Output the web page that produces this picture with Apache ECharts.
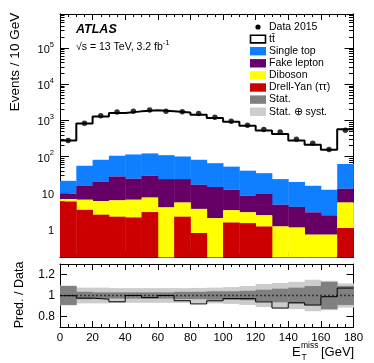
<!DOCTYPE html>
<html>
<head>
<meta charset="utf-8">
<script src="https://cdn.jsdelivr.net/npm/echarts@6/dist/echarts.min.js"></script>
<style>
  html, body { margin: 0; padding: 0; background: #fff; }
  #chart { width: 374px; height: 363px; }
</style>
</head>
<body>
<div id="chart"></div>
<script>
// bins of E_T^miss, 10 GeV wide
const binLow = [0, 10, 20, 30, 40, 50, 60, 70, 80, 90, 100, 110, 120, 130, 140, 150, 160, 170]
const binWidth = 10

// predicted events per bin
const drellYan = [5.8, 3.4, 2.5, 2.2, 2.1, 2.95, 0, 2.2, 0.78, 0, 1.52, 1.46, 1.18, 0, 0, 0, 0, 1.07]
const diboson = [0.9, 3.05, 3.4, 4.0, 4.35, 4.45, 3.95, 3.2, 2.82, 2.0, 1.78, 1.44, 1.22, 1.18, 1.1, 0.7, 0.7, 4.33]
const fakeLepton = [2.7, 9.55, 14.7, 22.2, 18.05, 22.2, 20.05, 18.6, 13.1, 12.5, 8.9, 5.4, 6.9, 3.52, 3.0, 2.2, 1.7, 7.6]
const singleTop = [12.1, 40, 61.4, 77.6, 90.5, 93.4, 86, 77, 65.3, 51.5, 40.8, 32.7, 25.7, 19.3, 15.9, 12.8, 9.8, 50]
const ttbar = [258, 764, 1208, 1494, 1665, 1777, 1670, 1559, 1358, 1104, 867, 674, 490, 396, 260, 197, 143, 512]
const data2015 = [280, 841, 1337, 1702, 1780, 1939, 1780, 1747, 1565, 1232, 948, 737, 559, 477, 301, 234, 157, 537]

// relative uncertainties on the prediction (ratio panel)
const statErr = [0.09, 0.035, 0.03, 0.03, 0.03, 0.03, 0.03, 0.035, 0.035, 0.04, 0.04, 0.045, 0.055, 0.065, 0.075, 0.09, 0.13, 0.09]
const totErr = [0.095, 0.075, 0.075, 0.07, 0.07, 0.07, 0.07, 0.07, 0.072, 0.075, 0.08, 0.09, 0.11, 0.12, 0.13, 0.15, 0.14, 0.115]

const yMajorTicks = [1, 10, 100, 1000, 10000, 100000]
const ratioTicks = [0.8, 1, 1.2]
const xTicks = [0, 20, 40, 60, 80, 100, 120, 140, 160, 180]

const Y_MIN = 0.164
const Y_MAX = 8.7e5
const FONT = 'Liberation Sans, Arial, Helvetica, sans-serif'

const colors = {
  single: '#0f7fff',
  fake: '#660066',
  dib: '#ffff00',
  dy: '#cc0000',
  stat: '#808080',
  syst: '#cccccc'
}

// minor log ticks 2..9 x 10^n
const yMinorTicks = []
for (let e = -1; e <= 5; e++) {
  for (let k = 2; k <= 9; k++) {
    const v = k * Math.pow(10, e)
    if (v > Y_MIN && v < Y_MAX) yMinorTicks.push(v)
  }
}

// stack levels
const lvl0 = drellYan.map(() => 0)
const lvl1 = drellYan.map((v, i) => lvl0[i] + v)
const lvl2 = diboson.map((v, i) => lvl1[i] + v)
const lvl3 = fakeLepton.map((v, i) => lvl2[i] + v)
const lvl4 = singleTop.map((v, i) => lvl3[i] + v)
const total = ttbar.map((v, i) => lvl4[i] + v)
const ratio = total.map((v, i) => v / data2015[i])

function stackData(lo, hi) {
  return binLow.map((x, i) => [x, x + binWidth, Math.max(lo[i], Y_MIN), Math.max(hi[i], Y_MIN)])
}

function boxRender(color) {
  return function (params, api) {
    const lo = api.value(2)
    const hi = api.value(3)
    if (hi <= lo) return null
    const p0 = api.coord([api.value(0), hi])
    const p1 = api.coord([api.value(1), lo])
    return {
      type: 'rect',
      shape: { x: p0[0], y: p0[1], width: p1[0] - p0[0] + 0.4, height: p1[1] - p0[1] },
      style: { fill: color }
    }
  }
}

function stackSeries(name, lo, hi, color, z) {
  return {
    name: name,
    type: 'custom',
    xAxisIndex: 0,
    yAxisIndex: 0,
    z: z,
    silent: true,
    renderItem: boxRender(color),
    encode: { x: [0, 1], y: [2, 3] },
    data: stackData(lo, hi)
  }
}

function bandSeries(name, err, color, z) {
  return {
    name: name,
    type: 'custom',
    xAxisIndex: 2,
    yAxisIndex: 4,
    z: z,
    silent: true,
    renderItem: boxRender(color),
    encode: { x: [0, 1], y: [2, 3] },
    data: binLow.map((x, i) => [x, x + binWidth, 1 - err[i], 1 + err[i]])
  }
}

function stepData(vals) {
  const d = binLow.map((x, i) => [x, vals[i]])
  d.push([binLow[binLow.length - 1] + binWidth, vals[vals.length - 1]])
  return d
}

function xAxis(grid, pos, labels) {
  return {
    type: 'value',
    gridIndex: grid,
    position: pos,
    min: 0,
    max: 180,
    interval: 20,
    axisLine: { show: true, onZero: false, lineStyle: { color: '#000', width: 1 } },
    axisTick: { show: true, inside: true, length: 6, lineStyle: { color: '#000' } },
    minorTick: { show: true, splitNumber: 4, length: 3, lineStyle: { color: '#000' } },
    splitLine: { show: false },
    axisLabel: {
      show: labels,
      color: '#000',
      fontFamily: FONT,
      fontSize: 11.5,
      margin: 5,
      customValues: xTicks
    }
  }
}

function logAxis(pos, ticks, len, labels) {
  return {
    type: 'log',
    logBase: 10,
    gridIndex: 0,
    position: pos,
    min: Y_MIN,
    max: Y_MAX,
    axisLine: { show: true, onZero: false, lineStyle: { color: '#000', width: 1 } },
    axisTick: { show: true, inside: true, length: len, customValues: ticks, lineStyle: { color: '#000' } },
    splitLine: { show: false },
    axisLabel: {
      show: labels,
      customValues: ticks,
      color: '#000',
      fontFamily: FONT,
      margin: 6,
      formatter: function (v) {
        const e = Math.round(Math.log10(v))
        if (e === 0) return '{b|1}'
        if (e === 1) return '{b|10}'
        return '{b|10}{s|' + e + '}'
      },
      rich: {
        b: { fontSize: 11, fontFamily: FONT, color: '#000', padding: [4, 0, 0, 0] },
        s: { fontSize: 7.5, fontFamily: FONT, color: '#000', verticalAlign: 'top' }
      }
    }
  }
}

function ratioAxis(pos, labels) {
  return {
    type: 'value',
    gridIndex: 1,
    position: pos,
    min: 0.7,
    max: 1.3,
    axisLine: { show: true, onZero: false, lineStyle: { color: '#000', width: 1 } },
    axisTick: { show: true, inside: true, length: 7, customValues: ratioTicks, lineStyle: { color: '#000' } },
    splitLine: { show: false },
    axisLabel: {
      show: labels,
      customValues: ratioTicks,
      color: '#000',
      fontFamily: FONT,
      fontSize: 12,
      margin: 5
    }
  }
}

// legend drawn as graphic items
const legendItems = [
  { text: 'Data 2015', kind: 'dot' },
  { text: 't t\u0304', kind: 'open' },
  { text: 'Single top', color: colors.single },
  { text: 'Fake lepton', color: colors.fake },
  { text: 'Diboson', color: colors.dib },
  { text: 'Drell-Yan (\u03c4\u03c4)', color: colors.dy },
  { text: 'Stat.', color: colors.stat },
  { text: 'Stat. \u2295 syst.', color: colors.syst }
]
const legendGraphics = []
legendItems.forEach((it, i) => {
  const y = 27 + i * 12.1
  if (it.kind === 'dot') {
    legendGraphics.push({ type: 'circle', shape: { cx: 258, cy: y, r: 2.6 }, style: { fill: '#000' } })
  } else if (it.kind === 'open') {
    legendGraphics.push({ type: 'rect', shape: { x: 250.5, y: y - 3.8, width: 15, height: 7.6 }, style: { fill: '#fff', stroke: '#000', lineWidth: 1.6 } })
  } else {
    legendGraphics.push({ type: 'rect', shape: { x: 250, y: y - 4.2, width: 16, height: 8.4 }, style: { fill: it.color } })
  }
  legendGraphics.push({
    type: 'text', x: 269, y: y,
    style: { text: it.text === 't t\u0304' ? 'tt\u0304' : it.text, fontFamily: FONT, fontSize: 10.5, fill: '#000', verticalAlign: 'middle' }
  })
})

const myChart = echarts.init(document.getElementById('chart'))
myChart.setOption({
  animation: false,
  backgroundColor: '#fff',
  grid: [
    { left: 60, top: 14, width: 293.5, height: 243.5 },
    { left: 60, top: 264, width: 293.5, height: 63 }
  ],
  xAxis: [
    xAxis(0, 'bottom', false),
    xAxis(0, 'top', false),
    xAxis(1, 'bottom', true),
    xAxis(1, 'top', false)
  ],
  yAxis: [
    logAxis('left', yMajorTicks, 9, true),
    logAxis('left', yMinorTicks, 4.5, false),
    logAxis('right', yMajorTicks, 9, false),
    logAxis('right', yMinorTicks, 4.5, false),
    ratioAxis('left', true),
    ratioAxis('right', false)
  ],
  graphic: [
    { type: 'text', x: 76, y: 30, style: { text: 'ATLAS', fontFamily: FONT, fontSize: 12.5, fontWeight: 'bold', fontStyle: 'italic', fill: '#000', verticalAlign: 'middle' } },
    {
      type: 'text', x: 76, y: 46,
      style: {
        text: '{a|\u221as = 13 TeV, 3.2 fb}{s|-1}', verticalAlign: 'middle',
        rich: {
          a: { fontFamily: FONT, fontSize: 10.5, fill: '#000', padding: [3, 0, 0, 0] },
          s: { fontFamily: FONT, fontSize: 7.5, fill: '#000', verticalAlign: 'top' }
        }
      }
    },
    { type: 'text', x: 15, y: 62, rotation: Math.PI / 2, style: { text: 'Events / 10 GeV', fontFamily: FONT, fontSize: 13.5, fill: '#000', align: 'center', verticalAlign: 'middle' } },
    { type: 'text', x: 20, y: 295, rotation: Math.PI / 2, style: { text: 'Pred. / Data', fontFamily: FONT, fontSize: 12.5, fill: '#000', align: 'center', verticalAlign: 'middle' } },
    { type: 'text', x: 292, y: 352, style: { text: 'E', fontFamily: FONT, fontSize: 13, fill: '#000', verticalAlign: 'middle' } },
    { type: 'text', x: 301, y: 346, style: { text: 'miss', fontFamily: FONT, fontSize: 8.5, fill: '#000', verticalAlign: 'middle' } },
    { type: 'text', x: 301.5, y: 357.5, style: { text: 'T', fontFamily: FONT, fontSize: 8.5, fill: '#000', verticalAlign: 'middle' } },
    { type: 'text', x: 321, y: 352, style: { text: '[GeV]', fontFamily: FONT, fontSize: 13, fill: '#000', verticalAlign: 'middle' } }
  ].concat(legendGraphics),
  series: [
    stackSeries('Single top', lvl3, lvl4, colors.single, 1),
    stackSeries('Fake lepton', lvl2, lvl3, colors.fake, 2),
    stackSeries('Diboson', lvl1, lvl2, colors.dib, 3),
    stackSeries('Drell-Yan (\u03c4\u03c4)', lvl0, lvl1, colors.dy, 4),
    {
      name: 'tt\u0304',
      type: 'line',
      xAxisIndex: 0,
      yAxisIndex: 0,
      step: 'end',
      showSymbol: false,
      z: 5,
      lineStyle: { color: '#000', width: 2 },
      data: stepData(total)
    },
    {
      name: 'Data 2015',
      type: 'scatter',
      xAxisIndex: 0,
      yAxisIndex: 0,
      symbolSize: 5.5,
      z: 6,
      itemStyle: { color: '#000' },
      data: binLow.map((x, i) => [x + binWidth / 2, data2015[i]])
    },
    bandSeries('Stat. \u2295 syst.', totErr, colors.syst, 1),
    bandSeries('Stat.', statErr, colors.stat, 2),
    {
      name: 'unity',
      type: 'line',
      xAxisIndex: 2,
      yAxisIndex: 4,
      showSymbol: false,
      z: 3,
      lineStyle: { color: '#333', width: 1.5, type: [2, 2] },
      data: [[0, 1], [180, 1]]
    },
    {
      name: 'Pred. / Data',
      type: 'line',
      xAxisIndex: 2,
      yAxisIndex: 4,
      step: 'end',
      showSymbol: false,
      z: 4,
      lineStyle: { color: '#000', width: 1 },
      data: stepData(ratio)
    }
  ]
})
</script>
</body>
</html>
